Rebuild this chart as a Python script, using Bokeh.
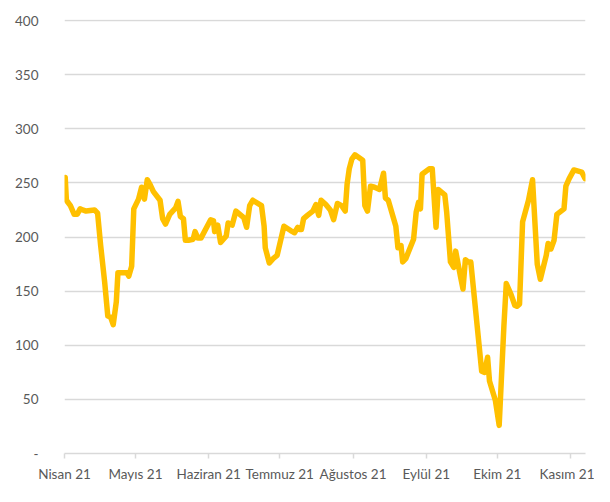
from bokeh.plotting import figure
from bokeh.models import Range1d, FixedTicker, BoxAnnotation
from bokeh.embed import file_html
from bokeh.resources import INLINE

# day offset from 1 April 2021
day = [0.3, 0.8, 2.5, 4.1, 5.4, 6.6, 7.7, 9.1, 12.7, 14.0, 15.3, 17.0, 18.3, 19.5, 20.6,
       21.9, 22.6, 26.4, 27.2, 28.4, 29.3, 31.3, 32.6, 33.8, 35.0, 36.3, 37.6, 40.4, 41.5,
       42.7, 44.5, 47.0, 48.0, 49.0, 50.3, 51.1, 52.4, 54.4, 55.2, 56.4, 57.7, 61.8, 63.0,
       63.5, 64.8, 66.0, 68.4, 69.2, 70.9, 72.5, 75.8, 77.0, 78.3, 79.6, 83.3, 84.4, 84.9,
       86.6, 88.2, 89.9, 92.8, 95.6, 97.3, 98.6, 99.4, 100.2, 101.1, 102.7, 105.0, 106.3,
       107.5, 108.5, 110.5, 112.4, 113.8, 115.4, 117.2, 118.7, 119.5, 120.4, 121.5, 122.8,
       126.1, 127.0, 128.1, 129.4, 131.1, 133.2, 134.9, 135.7, 136.9, 140.1, 141.0, 142.3,
       143.0, 144.3, 147.6, 148.7, 149.7, 150.5, 151.2, 154.2, 155.5, 157.1, 158.0, 160.8,
       161.6, 163.2, 164.6, 165.4, 167.4, 168.5, 169.5, 170.7, 171.8, 176.4, 177.6, 178.9,
       179.7, 182.2, 183.8, 185.8, 186.8, 188.8, 190.4, 191.3, 192.4, 193.7, 196.2, 197.9,
       199.9, 201.2, 203.7, 204.5, 205.7, 207.0, 208.2, 211.2, 212.0, 213.4, 215.4, 218.7,
       220.1]
value = [255, 234, 229, 221, 221, 226, 225, 224, 225, 222, 192, 158, 127, 126, 119,
         140, 167, 167, 164, 173, 226, 235, 246, 235, 253, 248, 242, 234, 217,
         212, 221, 227, 233, 219, 217, 197, 197, 198, 205, 199, 199, 216, 215,
         205, 211, 195, 201, 213, 211, 224, 218, 209, 229, 234, 229, 210, 190,
         176, 180, 183, 210, 206, 204, 209, 207, 207, 217, 220, 224, 230,
         220, 234, 230, 225, 216, 231, 229, 224, 249, 263, 272, 276,
         271, 229, 224, 247, 246, 244, 259, 236, 234, 210, 190, 192,
         177, 180, 198, 223, 232, 226, 258, 263, 263, 209, 244, 239,
         223, 177, 172, 187, 164, 152, 179, 177, 177, 76, 75, 89,
         67, 49, 26, 118, 157, 147, 137, 136, 138, 214, 234, 253,
         175, 161, 183, 194, 189, 197, 221, 226, 247, 254, 262, 260,
         254]

month_ticks = [0, 30, 61, 91, 122, 153, 183, 214]
month_labels = ["Nisan 21", "Mayıs 21", "Haziran 21", "Temmuz 21", "Ağustos 21",
                "Eylül 21", "Ekim 21", "Kasım 21"]
y_ticks = [0, 50, 100, 150, 200, 250, 300, 350, 400]
y_labels = ["-", "50", "100", "150", "200", "250", "300", "350", "400"]

FONT = "Lato"
TXT = "#595959"
GRID = "#d9d9d9"

p = figure(width=594, height=486, output_backend="svg", toolbar_location=None,
           x_range=Range1d(0, 220.3), y_range=Range1d(0, 401),
           min_border_left=64, min_border_right=9, min_border_top=19, min_border_bottom=33)
p.outline_line_color = None
p.background_fill_color = "white"
p.border_fill_color = "white"

# chart-area frame (left, right, bottom edges visible)
p.add_layout(BoxAnnotation(left=2, right=592, top=-10, bottom=484,
                           left_units="canvas", right_units="canvas",
                           top_units="canvas", bottom_units="canvas",
                           fill_color=None, line_color=GRID, line_width=2, level="underlay"))

p.line(day, value, line_color="#FFC000", line_width=5.5, line_join="round", line_cap="round")

p.xgrid.visible = False
p.ygrid.ticker = FixedTicker(ticks=y_ticks[1:])
p.ygrid.grid_line_color = GRID
p.ygrid.grid_line_width = 1.5

p.xaxis.ticker = FixedTicker(ticks=month_ticks)
p.xaxis.major_label_overrides = {t: l for t, l in zip(month_ticks, month_labels)}
p.xaxis.axis_line_color = GRID
p.xaxis.axis_line_width = 1.5
p.xaxis.major_tick_line_color = GRID
p.xaxis.major_tick_line_width = 1.5
p.xaxis.major_tick_out = 5
p.xaxis.major_tick_in = 0
p.xaxis.minor_tick_line_color = None
p.xaxis.major_label_standoff = 7
p.xaxis.major_label_text_font = FONT
p.xaxis.major_label_text_font_size = "13.5px"
p.xaxis.major_label_text_color = TXT

p.yaxis.ticker = FixedTicker(ticks=y_ticks)
p.yaxis.major_label_overrides = {t: l for t, l in zip(y_ticks, y_labels)}
p.yaxis.axis_line_color = None
p.yaxis.major_tick_line_color = None
p.yaxis.minor_tick_line_color = None
p.yaxis.major_label_standoff = 20
p.yaxis.major_label_text_font = FONT
p.yaxis.major_label_text_font_size = "13.5px"
p.yaxis.major_label_text_color = TXT

open("out.html", "w").write(file_html(p, INLINE))
